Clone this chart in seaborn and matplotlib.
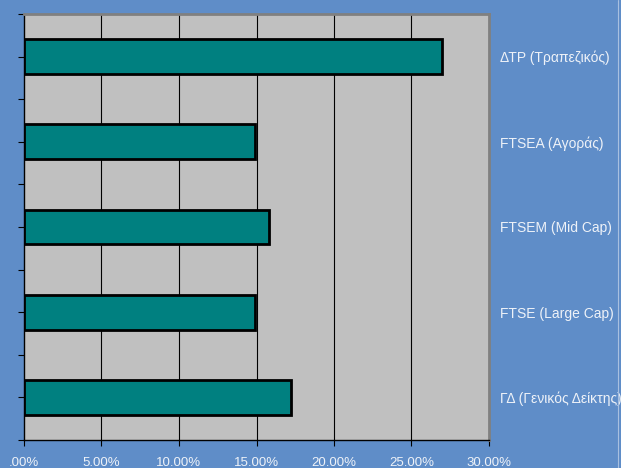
import matplotlib
matplotlib.use("Agg")
import matplotlib.pyplot as plt
import seaborn as sns
import pandas as pd

categories = ["ΔΤΡ (Τραπεζικός)", "FTSEA (Αγοράς)", "FTSEM (Mid Cap)",
              "FTSE (Large Cap)", "ΓΔ (Γενικός Δείκτης)"]
values = [27.0, 14.9, 15.8, 14.9, 17.2]
xticks = [0, 5, 10, 15, 20, 25, 30]
xtick_labels = [".00%", "5.00%", "10.00%", "15.00%", "20.00%", "25.00%", "30.00%"]

df = pd.DataFrame({"index": categories, "ret": values})

sns.set_style("white")
plt.rcParams["font.family"] = ["Liberation Sans", "DejaVu Sans"]

bg = "#5F8DC8"
fig = plt.figure(figsize=(6.21, 4.68), dpi=100, facecolor=bg)
ax = fig.add_axes([24 / 621, 28 / 468, 465 / 621, 426 / 468])
ax.set_facecolor("#C0C0C0")

sns.barplot(data=df, y="index", x="ret", order=categories, orient="h",
            color="#008080", saturation=1, width=0.41,
            edgecolor="black", linewidth=2, ax=ax, zorder=3)

ax.set_xlim(0, 30)
ax.set_ylim(4.5, -0.5)
ax.set_xticks(xticks)
ax.set_xticklabels(xtick_labels)
ax.set_xlabel("")
ax.set_ylabel("")

for x in xticks[1:-1]:
    ax.axvline(x, color="black", linewidth=0.8, zorder=1)

ax.set_yticks(range(len(categories)))
ax.set_yticklabels(categories)
ax.set_yticks([i - 0.5 for i in range(len(categories) + 1)], minor=True)
ax.tick_params(axis="y", which="both", left=True, right=False,
               labelleft=False, labelright=True, length=4, width=0.8,
               color="black", pad=4, labelsize=10, labelcolor="#EEF2F8")
ax.tick_params(axis="x", bottom=True, length=4, width=0.8, color="black",
               labelsize=9.5, labelcolor="#EEF2F8", pad=8)

for side in ["left", "bottom"]:
    ax.spines[side].set_color("black")
    ax.spines[side].set_linewidth(1)
for side in ["top", "right"]:
    ax.spines[side].set_color("#808080")
    ax.spines[side].set_linewidth(2)

fig.add_artist(plt.Line2D([617.5 / 621, 617.5 / 621], [0, 1],
                          transform=fig.transFigure, color="#A8C0E0", linewidth=0.8))

fig.savefig("out.png", dpi=100, facecolor=bg)
